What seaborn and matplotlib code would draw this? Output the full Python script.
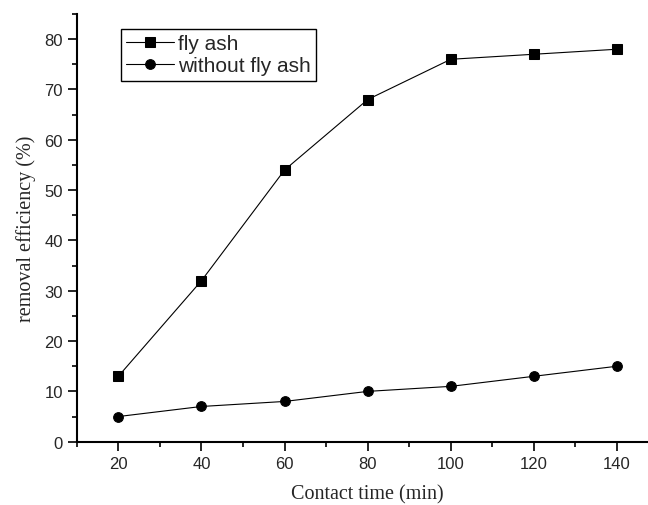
import matplotlib
matplotlib.use("Agg")
import matplotlib.pyplot as plt
from matplotlib.ticker import MultipleLocator
import seaborn as sns
import pandas as pd

# data
contact_time = [20, 40, 60, 80, 100, 120, 140]
fly_ash = [13, 32, 54, 68, 76, 77, 78]
without_fly_ash = [5, 7, 8, 10, 11, 13, 15]
series_names = ["fly ash", "without fly ash"]

df = pd.DataFrame({
    "time": contact_time * 2,
    "eff": fly_ash + without_fly_ash,
    "series": [series_names[0]] * len(contact_time) + [series_names[1]] * len(contact_time),
})

sns.set_style("ticks")
plt.rcParams["font.family"] = ["Liberation Sans", "DejaVu Sans"]

fig = plt.figure(figsize=(6.48, 5.06), dpi=100)
ax = fig.add_axes([76.8 / 648, 63.3 / 506, (658.6 - 76.8) / 648, (442.7 - 15) / 506])

sns.lineplot(data=df, x="time", y="eff", hue="series", style="series",
             palette=["black", "black"], markers=["s", "o"], dashes=False,
             markersize=7, markeredgecolor="black", linewidth=0.8, ax=ax,
             legend=True)

ax.set_xlim(10, 150)
ax.set_ylim(0, 85)
ax.xaxis.set_major_locator(MultipleLocator(20))
ax.xaxis.set_minor_locator(MultipleLocator(10))
ax.yaxis.set_major_locator(MultipleLocator(10))
ax.yaxis.set_minor_locator(MultipleLocator(5))
ax.tick_params(which="major", length=6.5, width=1.2, labelsize=12, direction="out", color="black")
ax.tick_params(which="minor", length=3.6, width=1.2, direction="out", color="black")
for s in ["top", "right"]:
    ax.spines[s].set_visible(False)
for s in ["left", "bottom"]:
    ax.spines[s].set_linewidth(1.5)
    ax.spines[s].set_color("black")

ax.set_xlabel("Contact time (min)", family=["Liberation Serif"], fontsize=14.5, labelpad=10)
ax.set_ylabel("removal efficiency (%)", family=["Liberation Serif"], fontsize=14.5, labelpad=6)

handles, labels = ax.get_legend_handles_labels()
leg = ax.legend(handles, labels, loc="upper left",
                bbox_to_anchor=(121 / 648, 1 - 30 / 506), bbox_transform=fig.transFigure,
                borderaxespad=0, frameon=True, fancybox=False, shadow=False,
                fontsize=15, handlelength=2.3, handletextpad=0.2, labelspacing=0.15,
                borderpad=0.25, framealpha=1)
leg.get_frame().set_edgecolor("black")
leg.get_frame().set_linewidth(1.0)

fig.savefig("out.png", dpi=100)
